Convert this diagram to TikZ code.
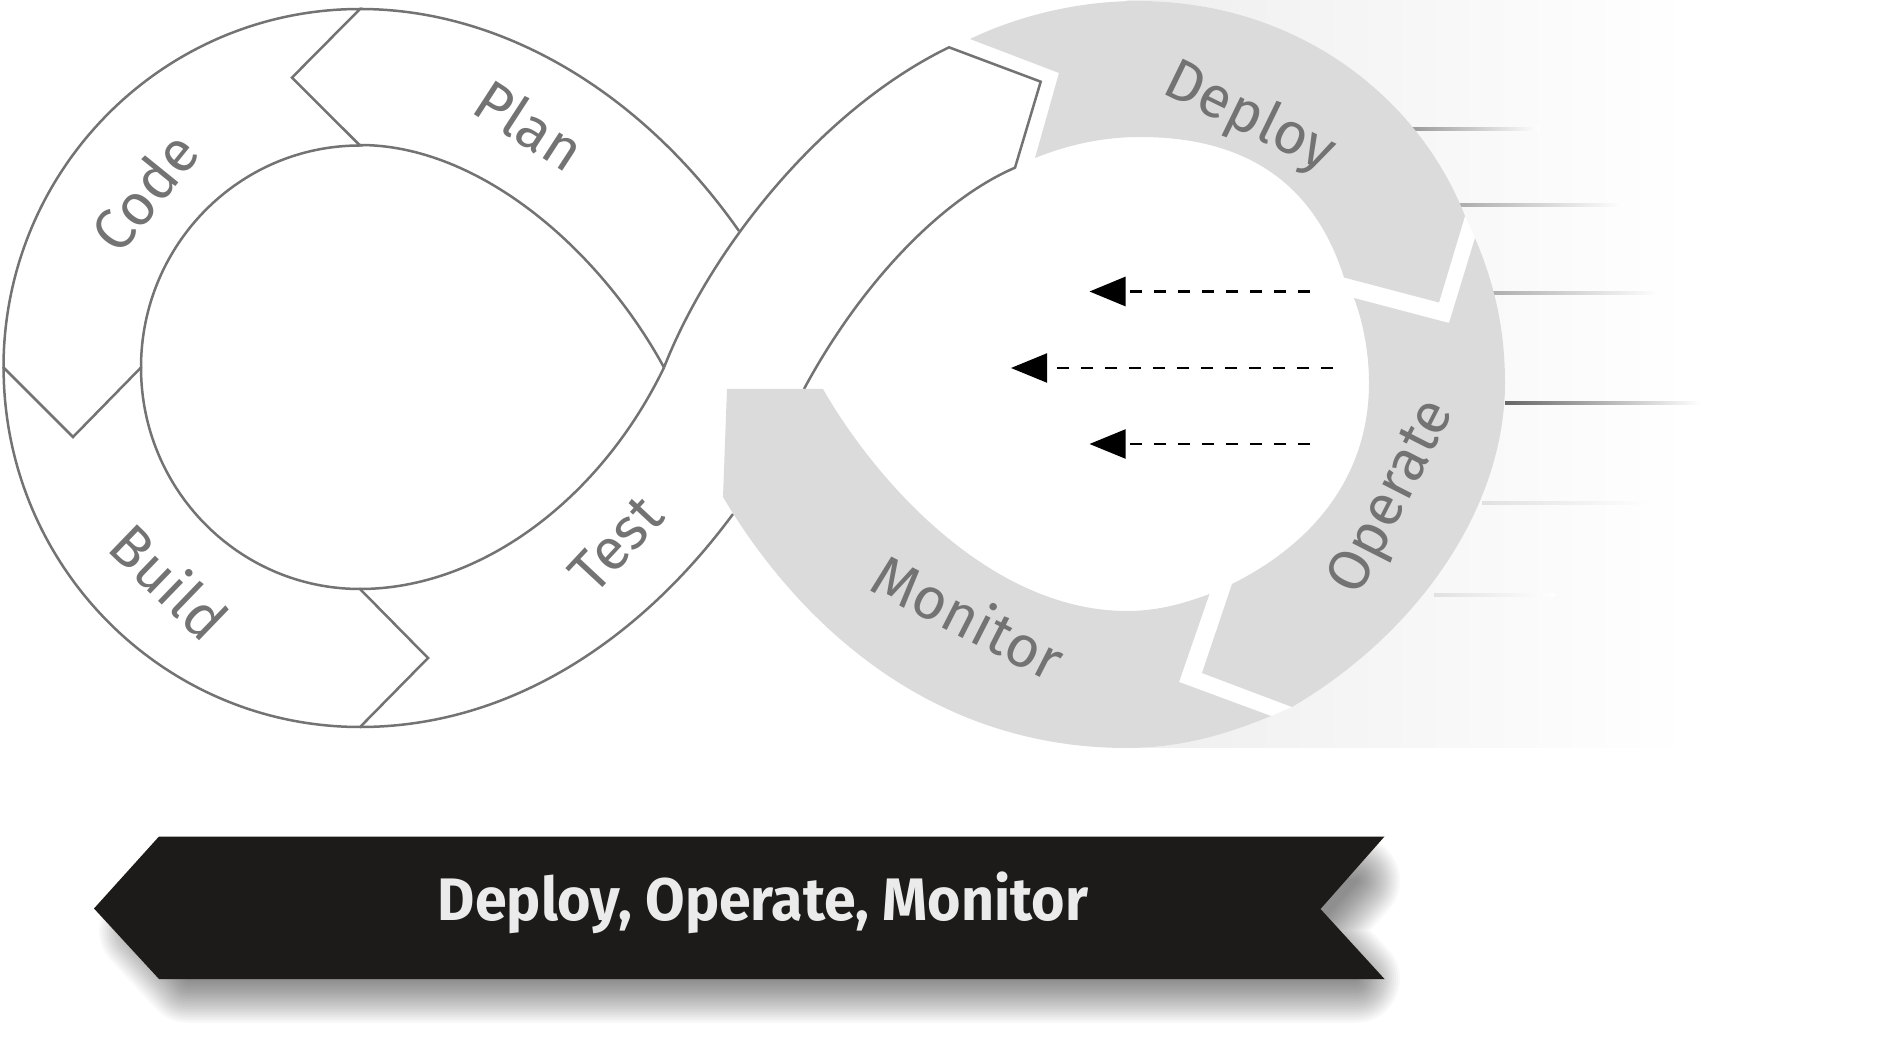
\documentclass[tikz,border=0pt]{standalone}
\usepackage{fontspec}
\setmainfont{Fira Sans}
\usetikzlibrary{arrows.meta}
\definecolor{linegrey}{HTML}{737373}
\definecolor{ringgrey}{HTML}{DBDBDB}
\definecolor{bannerblack}{HTML}{1C1B19}
\definecolor{bannertext}{HTML}{EBEBEB}
\newcommand{\bannerpath}{(159,836.5) -- (1384.5,836.5) -- (1320.5,909) -- (1384.5,979) -- (159,979) -- (94,908.5) -- cycle}
\newcommand{\bannercore}{(168,858.5) -- (1336,858.5) -- (1291,909) -- (1336,957) -- (168,957) -- (123,908.5) -- cycle}
\tikzset{
  loopline/.style={draw=linegrey,line width=1.25pt,line join=miter},
  seg/.style={fill=ringgrey},
  lab/.style={text=linegrey,font=\fontsize{29}{29}\selectfont,inner sep=0pt},
  dasharrow/.style={draw=black,line width=1pt,dash pattern=on 6pt off 6pt,-{Triangle[length=18pt,width=14.5pt]}}
}
\begin{document}
\begin{tikzpicture}[x=0.5pt,y=-0.5pt]
\useasboundingbox (0,0) rectangle (1892,1037);
\fill[white] (0,0) rectangle (1892,1037);
% fading band behind the ring
\shade[left color=black!6.5,middle color=black!4,right color=white] (1127,1) rectangle (1690,747);
% backing of the ring
\fill[white] (1138,1) .. controls (1300,1) and (1420,100) .. (1465,216) -- (1475,238)
  .. controls (1495,285) and (1505,330) .. (1505,383)
  .. controls (1505,510) and (1415,635) .. (1292,707) -- (1271,716)
  .. controls (1225,735) and (1180,748) .. (1127,748) -- (1100,400) -- cycle;
% speed rules
\shade[left color=black!40,right color=white] (1411,127.5) rectangle (1540,130.5);
\shade[left color=black!32,right color=white] (1460,204) rectangle (1625,207);
\shade[left color=black!32,right color=white] (1493,291.5) rectangle (1660,294.5);
\shade[left color=black!60,right color=white] (1505,401.5) rectangle (1700,404.5);
\shade[left color=black!12,right color=white] (1482,501.5) rectangle (1655,504.5);
\shade[left color=black!12,right color=white] (1434,594) rectangle (1555,597);
% left loop: Code and Plan
\draw[loopline] (360,9) arc[start angle=270,end angle=180,x radius=356.5,y radius=358.5]
  -- (73,437) -- (141,367.5)
  arc[start angle=180,end angle=270,x radius=219,y radius=222]
  -- (292,77.6) -- cycle;
\draw[loopline] (360,9) .. controls (500,9) and (640,90) .. (739,231);
\draw[loopline] (360,145) .. controls (480,145) and (600,250) .. (664,367.5);
% left loop: Build and Test
\draw[loopline] (3.6,367.5) arc[start angle=180,end angle=90,x radius=356.5,y radius=359.5]
  -- (428,658) -- (360,589)
  arc[start angle=90,end angle=180,x radius=219,y radius=221.5];
\draw[loopline] (360,589) .. controls (480,589) and (600,500) .. (664,367.5);
\draw[loopline] (360,727) .. controls (510,727) and (640,640) .. (733,514);
% rising arm
\draw[loopline] (664,367.5) .. controls (710,250) and (820,110) .. (949,47.3)
  -- (1040.7,81.7) -- (1015,167.7) .. controls (940,200) and (860,285) .. (804,389);
% grey segments
\fill[seg] (970,39) .. controls (1020,15) and (1080,1) .. (1138,1)
  .. controls (1300,1) and (1420,100) .. (1465,216) -- (1439,302.5) -- (1344,277.5)
  .. controls (1310,170) and (1230,137) .. (1140,137)
  .. controls (1100,137) and (1065,146) .. (1035,158) -- (1059,73) -- cycle;
\fill[seg] (1232,584) -- (1202,673) -- (1292,707)
  .. controls (1415,635) and (1505,510) .. (1505,383)
  .. controls (1505,330) and (1495,285) .. (1475,238) -- (1449,323) -- (1354,298)
  .. controls (1364,325) and (1369,355) .. (1369,383)
  .. controls (1369,470) and (1320,540) .. (1232,584) -- cycle;
\fill[seg] (727,389) -- (823,389) .. controls (875,480) and (990,611) .. (1127,611)
  .. controls (1155,611) and (1180,605) .. (1209.5,594) -- (1179,682) -- (1271,716)
  .. controls (1225,735) and (1180,748) .. (1127,748)
  .. controls (920,748) and (790,610) .. (723,497) -- cycle;
% labels
\node[lab,rotate=-33] (plan) at (530,125) {Plan};
\node[lab,rotate=51] (code) at (144,192) {Code};
\node[lab,rotate=47] (test) at (616,544) {Test};
\node[lab,rotate=-44] (build) at (170,581) {Build};
\node[lab,rotate=-26] (deploy) at (1249,118) {Deploy};
\node[lab,rotate=63] (operate) at (1394,498) {Operate};
\node[lab,rotate=-27] (monitor) at (969,616) {Monitor};
% dashed arrows
\coordinate (a1s) at (1310,291.5); \coordinate (a1e) at (1089.5,291.5);
\coordinate (a2s) at (1333,368); \coordinate (a2e) at (1011,368);
\coordinate (a3s) at (1310,444); \coordinate (a3e) at (1089.5,444);
\draw[dasharrow,line width=1.4pt] (a1s) -- (a1e);
\draw[dasharrow] (a2s) -- (a2e);
\draw[dasharrow] (a3s) -- (a3e);
% banner shadow
\foreach \w in {44,42,...,2}{
  \begin{scope}[transparency group,opacity=0.022]
    \draw[black,fill=black,line width=\w pt,line join=round,shift={(20,22)}] \bannercore;
  \end{scope}
}
\fill[bannerblack] \bannerpath;
\node[inner sep=0pt,text=bannertext] (banner) at (763,903)
  {\fontsize{30}{30}\selectfont\bfseries\scalebox{0.955}[1]{Deploy, Operate, Monitor}};
\end{tikzpicture}
\end{document}
